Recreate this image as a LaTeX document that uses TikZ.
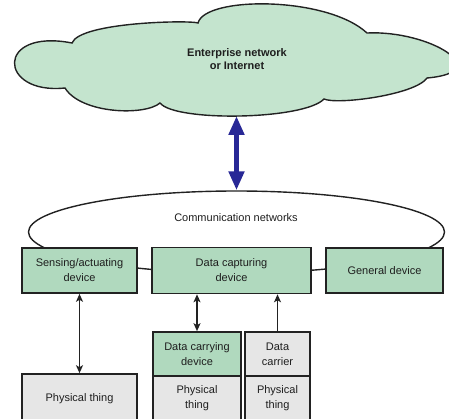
\documentclass[tikz,border=0pt]{standalone}
\usepackage{fontspec}
\setmainfont{Liberation Sans}
\usetikzlibrary{arrows.meta,shapes.geometric}
\definecolor{cloudfill}{RGB}{196,228,206}
\definecolor{boxgreen}{RGB}{176,217,190}
\definecolor{boxgray}{RGB}{230,230,230}
\definecolor{edge}{RGB}{34,34,34}
\definecolor{txt}{RGB}{30,30,30}
\definecolor{navy}{RGB}{40,40,150}
\begin{document}
\begin{tikzpicture}[x=1pt,y=-1pt,
  every node/.style={text=txt, font=\fontsize{11}{15}\selectfont, align=center},
  gbox/.style={draw=edge, line width=1.6pt, fill=boxgreen, inner sep=0pt},
  ybox/.style={draw=edge, line width=1.6pt, fill=boxgray, inner sep=0pt},
  conn/.style={draw=edge, line width=1.4pt}
]
\useasboundingbox (0,0) rectangle (449,419);
\clip (0,0) rectangle (449,419);
% cloud
\draw[draw=edge, line width=1.4pt, fill=cloudfill]
  (65,88) .. controls (-2,95) and (-5,28) .. (72,43)
  .. controls (80,22) and (190,20) .. (198,23)
  .. controls (205,-4) and (327,-4) .. (367,33)
  .. controls (430,30) and (497,72) .. (427,78)
  .. controls (415,95) and (337,105) .. (324,99)
  .. controls (304,120) and (175,122) .. (160,103)
  .. controls (145,116) and (81,114) .. (65,88) -- cycle;
\node[font=\bfseries\fontsize{11}{13}\selectfont] (ent) at (237,59.5) {Enterprise network\\or Internet};
\coordinate (cloudbot) at (236.5,116);
% communication network ellipse
\node[ellipse, draw=edge, line width=1.4pt, minimum width=416pt, minimum height=82pt, inner sep=0pt] (net) at (236.5,232) {};
\node (comm) at (236,218) {Communication networks};
\draw[draw=navy, line width=5pt, {Triangle[length=19pt,width=15pt]}-{Triangle[length=19pt,width=15pt]}] (cloudbot) -- (net.north);
% device boxes
\node[gbox, minimum width=115pt, minimum height=45pt] (sens) at (79.5,270.5) {Sensing/actuating\\device};
\node[gbox, minimum width=159pt, minimum height=46pt] (cap) at (231.5,270.5) {Data capturing\\device};
\node[gbox, minimum width=117pt, minimum height=45pt] (gen) at (384.5,270.5) {General device};
% things
\node[ybox, minimum width=115pt, minimum height=50pt] (phys1) at (79.5,399) {Physical thing};
\node[gbox, minimum width=88pt, minimum height=44pt] (dcd) at (197,354) {Data carrying\\device};
\node[ybox, minimum width=88pt, minimum height=44pt] (phys2) at (197,398) {Physical\\thing};
\node[ybox, minimum width=65pt, minimum height=44pt] (dc) at (277.5,354) {Data\\carrier};
\node[ybox, minimum width=65pt, minimum height=44pt] (phys3) at (277.5,398) {Physical\\thing};
% connectors
\draw[conn, {Stealth[length=8pt,width=7pt,inset=2pt]}-{Stealth[length=8pt,width=7pt,inset=2pt]}] (sens.south) -- (phys1.north);
\draw[conn, {Stealth[length=8pt,width=7pt,inset=2pt]}-{Stealth[length=8pt,width=7pt,inset=2pt]}] (cap.south -| dcd.north) -- (dcd.north);
\draw[conn, -{Stealth[length=8pt,width=7pt,inset=2pt]}] (dc.north) -- (cap.south -| dc.north);
\end{tikzpicture}
\end{document}
